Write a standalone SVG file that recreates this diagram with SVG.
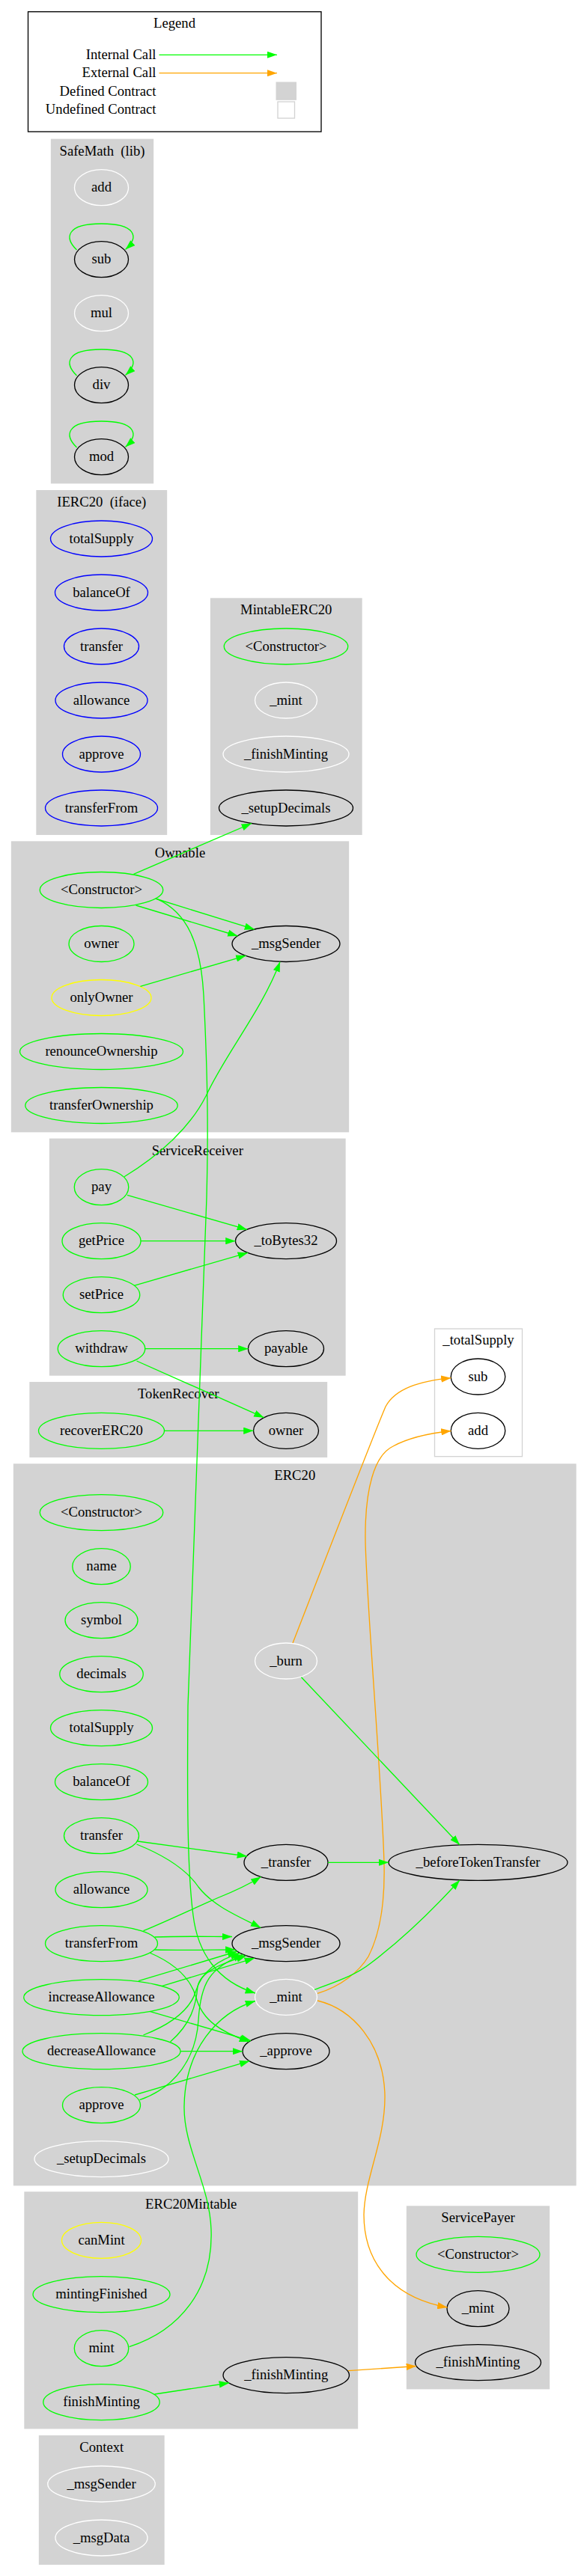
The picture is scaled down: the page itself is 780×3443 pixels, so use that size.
<svg xmlns="http://www.w3.org/2000/svg" width="780" height="3443" viewBox="0 0 780 3443">
<style>
text{font-family:"Liberation Serif","Times New Roman",serif;font-size:18.67px;fill:#000;text-anchor:middle}
.pre{white-space:pre}
.cl{fill:#d3d3d3;stroke:#d3d3d3;stroke-width:1.33}
.clw{fill:#fff;stroke:#d3d3d3;stroke-width:1.33}
ellipse{fill:none;stroke-width:1.33}
.g{stroke:#00ff00}.b{stroke:#0000ff}.y{stroke:#ffff00}.w{stroke:#ffffff}.k{stroke:#000000}
.eg{fill:none;stroke:#00ff00;stroke-width:1.33;marker-end:url(#ag)}
.eo{fill:none;stroke:#ffa500;stroke-width:1.33;marker-end:url(#ao)}
</style>
<defs>
<marker id="ag" markerUnits="userSpaceOnUse" markerWidth="13.33" markerHeight="9.33" viewBox="0 0 10 7" refX="10" refY="3.5" orient="auto"><path d="M0,0L10,3.5L0,7z" fill="#00ff00"/></marker>
<marker id="ao" markerUnits="userSpaceOnUse" markerWidth="13.33" markerHeight="9.33" viewBox="0 0 10 7" refX="10" refY="3.5" orient="auto"><path d="M0,0L10,3.5L0,7z" fill="#ffa500"/></marker>
</defs>
<rect width="780" height="3443" fill="#fff"/>

<g id="legend">
<rect x="37.5" y="15.7" width="391.5" height="160.3" fill="#fff" stroke="#000" stroke-width="1.33"/>
<text x="233" y="37">Legend</text>
<text x="208.5" y="79" style="text-anchor:end">Internal Call</text>
<text x="208.5" y="103.3" style="text-anchor:end">External Call</text>
<text x="208.5" y="127.6" style="text-anchor:end">Defined Contract</text>
<text x="208.5" y="152.3" style="text-anchor:end">Undefined Contract</text>
<path class="eg" d="M212.5,73.3L370,73.3"/>
<path class="eo" d="M212.5,97.7L370,97.7"/>
<rect x="369" y="110" width="26.5" height="23.3" fill="#d3d3d3" stroke="#d3d3d3"/>
<rect x="371" y="136" width="22.5" height="22" fill="#fff" stroke="#d3d3d3" stroke-width="1.33"/>
</g>

<g id="cluster_SafeMath">
<rect class="cl" x="68.5" y="186.3" width="136" height="459.4"/>
<text class="pre" x="136.5" y="207.5" xml:space="preserve">SafeMath  (lib)</text>
</g>
<g id="cluster_IERC20">
<rect class="cl" x="49" y="655.7" width="173.5" height="459.6"/>
<text class="pre" x="135.75" y="677" xml:space="preserve">IERC20  (iface)</text>
</g>
<g id="cluster_MintableERC20">
<rect class="cl" x="281.5" y="800" width="201.5" height="315.3"/>
<text x="382.25" y="821">MintableERC20</text>
</g>
<g id="cluster_Ownable">
<rect class="cl" x="15.5" y="1125" width="450" height="387.7"/>
<text x="240.5" y="1146">Ownable</text>
</g>
<g id="cluster_ServiceReceiver">
<rect class="cl" x="66.5" y="1522.3" width="394.5" height="315.7"/>
<text x="263.75" y="1543.5">ServiceReceiver</text>
</g>
<g id="cluster_TokenRecover">
<rect class="cl" x="40" y="1847.7" width="396.5" height="99.6"/>
<text x="238.25" y="1869">TokenRecover</text>
</g>
<g id="cluster_totalSupply">
<rect class="clw" x="580.5" y="1776" width="117" height="170.7"/>
<text x="639" y="1797">_totalSupply</text>
</g>
<g id="cluster_ERC20">
<rect class="cl" x="18.5" y="1957" width="750.5" height="963.7"/>
<text x="393.75" y="1978">ERC20</text>
</g>
<g id="cluster_ERC20Mintable">
<rect class="cl" x="33" y="2930" width="444.5" height="315.7"/>
<text x="255.25" y="2951.5">ERC20Mintable</text>
</g>
<g id="cluster_ServicePayer">
<rect class="cl" x="543.5" y="2949" width="190" height="243.7"/>
<text x="638.5" y="2970">ServicePayer</text>
</g>
<g id="cluster_Context">
<rect class="cl" x="52.5" y="3255.7" width="166.5" height="171.6"/>
<text x="135.75" y="3276.5">Context</text>
</g>

<g id="SafeMath_add"><ellipse class="w" cx="135.5" cy="250.7" rx="36" ry="24"/><text x="135.5" y="256.3">add</text></g>
<g id="SafeMath_sub"><ellipse class="k" cx="135.5" cy="346.7" rx="36" ry="24"/><text x="135.5" y="352.3">sub</text></g>
<g id="SafeMath_mul"><ellipse class="w" cx="135.5" cy="418.7" rx="36" ry="24"/><text x="135.5" y="424.3">mul</text></g>
<g id="SafeMath_div"><ellipse class="k" cx="135.5" cy="514.7" rx="36" ry="24"/><text x="135.5" y="520.3">div</text></g>
<g id="SafeMath_mod"><ellipse class="k" cx="135.5" cy="610.7" rx="36" ry="24"/><text x="135.5" y="616.3">mod</text></g>

<g id="IERC20_totalSupply"><ellipse class="b" cx="135.5" cy="720" rx="68" ry="24"/><text x="135.5" y="725.6">totalSupply</text></g>
<g id="IERC20_balanceOf"><ellipse class="b" cx="135.5" cy="792" rx="62" ry="24"/><text x="135.5" y="797.6">balanceOf</text></g>
<g id="IERC20_transfer"><ellipse class="b" cx="135.5" cy="864" rx="50" ry="24"/><text x="135.5" y="869.6">transfer</text></g>
<g id="IERC20_allowance"><ellipse class="b" cx="135.5" cy="936" rx="61.5" ry="24"/><text x="135.5" y="941.6">allowance</text></g>
<g id="IERC20_approve"><ellipse class="b" cx="135.5" cy="1008" rx="52" ry="24"/><text x="135.5" y="1013.6">approve</text></g>
<g id="IERC20_transferFrom"><ellipse class="b" cx="135.5" cy="1080" rx="75" ry="24"/><text x="135.5" y="1085.6">transferFrom</text></g>

<g id="MintableERC20_Constructor"><ellipse class="g" cx="382" cy="864" rx="82.75" ry="24"/><text x="382" y="869.6">&lt;Constructor&gt;</text></g>
<g id="MintableERC20_mint"><ellipse class="w" cx="382" cy="936" rx="41.5" ry="24"/><text x="382" y="941.6">_mint</text></g>
<g id="MintableERC20_finishMinting"><ellipse class="w" cx="382" cy="1008" rx="84" ry="24"/><text x="382" y="1013.6">_finishMinting</text></g>
<g id="MintableERC20_setupDecimals"><ellipse class="k" cx="382" cy="1080" rx="89.5" ry="24"/><text x="382" y="1085.6">_setupDecimals</text></g>

<g id="Ownable_Constructor"><ellipse class="g" cx="135.5" cy="1189.5" rx="82.25" ry="24"/><text x="135.5" y="1195.1">&lt;Constructor&gt;</text></g>
<g id="Ownable_owner"><ellipse class="g" cx="135.5" cy="1261.5" rx="43.5" ry="24"/><text x="135.5" y="1267.1">owner</text></g>
<g id="Ownable_onlyOwner"><ellipse class="y" cx="135.5" cy="1333.5" rx="66.5" ry="24"/><text x="135.5" y="1339.1">onlyOwner</text></g>
<g id="Ownable_renounceOwnership"><ellipse class="g" cx="135.5" cy="1405.5" rx="109" ry="24"/><text x="135.5" y="1411.1">renounceOwnership</text></g>
<g id="Ownable_transferOwnership"><ellipse class="g" cx="135.5" cy="1477.5" rx="101.75" ry="24"/><text x="135.5" y="1483.1">transferOwnership</text></g>
<g id="Ownable_msgSender"><ellipse class="k" cx="382" cy="1261.5" rx="72" ry="24"/><text x="382" y="1267.1">_msgSender</text></g>

<g id="ServiceReceiver_pay"><ellipse class="g" cx="135.5" cy="1586.7" rx="36.25" ry="24"/><text x="135.5" y="1592.3">pay</text></g>
<g id="ServiceReceiver_getPrice"><ellipse class="g" cx="135.5" cy="1658.7" rx="52.5" ry="24"/><text x="135.5" y="1664.3">getPrice</text></g>
<g id="ServiceReceiver_setPrice"><ellipse class="g" cx="135.5" cy="1730.7" rx="51.25" ry="24"/><text x="135.5" y="1736.3">setPrice</text></g>
<g id="ServiceReceiver_withdraw"><ellipse class="g" cx="135.5" cy="1802.7" rx="58.25" ry="24"/><text x="135.5" y="1808.3">withdraw</text></g>
<g id="ServiceReceiver_toBytes32"><ellipse class="k" cx="382" cy="1658.7" rx="67.5" ry="24"/><text x="382" y="1664.3">_toBytes32</text></g>
<g id="ServiceReceiver_payable"><ellipse class="k" cx="382" cy="1802.7" rx="50.5" ry="24"/><text x="382" y="1808.3">payable</text></g>

<g id="TokenRecover_recoverERC20"><ellipse class="g" cx="135.5" cy="1912.3" rx="84" ry="24"/><text x="135.5" y="1917.9">recoverERC20</text></g>
<g id="TokenRecover_owner"><ellipse class="k" cx="382" cy="1912.3" rx="43.5" ry="24"/><text x="382" y="1917.9">owner</text></g>

<g id="totalSupply_sub"><ellipse class="k" cx="638.5" cy="1840" rx="36.25" ry="24"/><text x="638.5" y="1845.6">sub</text></g>
<g id="totalSupply_add"><ellipse class="k" cx="638.5" cy="1912.3" rx="36.25" ry="24"/><text x="638.5" y="1917.9">add</text></g>

<g id="ERC20_Constructor"><ellipse class="g" cx="135.5" cy="2021.7" rx="82.25" ry="24"/><text x="135.5" y="2027.3">&lt;Constructor&gt;</text></g>
<g id="ERC20_name"><ellipse class="g" cx="135.5" cy="2093.7" rx="38.75" ry="24"/><text x="135.5" y="2099.3">name</text></g>
<g id="ERC20_symbol"><ellipse class="g" cx="135.5" cy="2165.7" rx="48.5" ry="24"/><text x="135.5" y="2171.3">symbol</text></g>
<g id="ERC20_decimals"><ellipse class="g" cx="135.5" cy="2237.7" rx="55.75" ry="24"/><text x="135.5" y="2243.3">decimals</text></g>
<g id="ERC20_totalSupply"><ellipse class="g" cx="135.5" cy="2309.7" rx="68" ry="24"/><text x="135.5" y="2315.3">totalSupply</text></g>
<g id="ERC20_balanceOf"><ellipse class="g" cx="135.5" cy="2381.7" rx="62" ry="24"/><text x="135.5" y="2387.3">balanceOf</text></g>
<g id="ERC20_transfer"><ellipse class="g" cx="135.5" cy="2453.7" rx="50" ry="24"/><text x="135.5" y="2459.3">transfer</text></g>
<g id="ERC20_allowance"><ellipse class="g" cx="135.5" cy="2525.7" rx="61.5" ry="24"/><text x="135.5" y="2531.3">allowance</text></g>
<g id="ERC20_transferFrom"><ellipse class="g" cx="135.5" cy="2597.7" rx="75" ry="24"/><text x="135.5" y="2603.3">transferFrom</text></g>
<g id="ERC20_increaseAllowance"><ellipse class="g" cx="135.5" cy="2669.7" rx="103.75" ry="24"/><text x="135.5" y="2675.3">increaseAllowance</text></g>
<g id="ERC20_decreaseAllowance"><ellipse class="g" cx="135.5" cy="2741.7" rx="105.5" ry="24"/><text x="135.5" y="2747.3">decreaseAllowance</text></g>
<g id="ERC20_approve"><ellipse class="g" cx="135.5" cy="2813.7" rx="52" ry="24"/><text x="135.5" y="2819.3">approve</text></g>
<g id="ERC20_setupDecimals"><ellipse class="w" cx="135.5" cy="2885.7" rx="89.5" ry="24"/><text x="135.5" y="2891.3">_setupDecimals</text></g>
<g id="ERC20_burn"><ellipse class="w" cx="382" cy="2220" rx="41.5" ry="24"/><text x="382" y="2225.6">_burn</text></g>
<g id="ERC20_transfer_internal"><ellipse class="k" cx="382" cy="2489.3" rx="56" ry="24"/><text x="382" y="2494.9">_transfer</text></g>
<g id="ERC20_msgSender"><ellipse class="k" cx="382" cy="2597.7" rx="72" ry="24"/><text x="382" y="2603.3">_msgSender</text></g>
<g id="ERC20_mint"><ellipse class="w" cx="382" cy="2669.3" rx="41.5" ry="24"/><text x="382" y="2674.9">_mint</text></g>
<g id="ERC20_approve_internal"><ellipse class="k" cx="382" cy="2741.7" rx="58" ry="24"/><text x="382" y="2747.3">_approve</text></g>
<g id="ERC20_beforeTokenTransfer"><ellipse class="k" cx="638.5" cy="2489.3" rx="119.5" ry="24"/><text x="638.5" y="2494.9">_beforeTokenTransfer</text></g>

<g id="ERC20Mintable_canMint"><ellipse class="y" cx="135.5" cy="2994.3" rx="53" ry="24"/><text x="135.5" y="2999.9">canMint</text></g>
<g id="ERC20Mintable_mintingFinished"><ellipse class="g" cx="135.5" cy="3066.7" rx="91.5" ry="24"/><text x="135.5" y="3072.3">mintingFinished</text></g>
<g id="ERC20Mintable_mint"><ellipse class="g" cx="135.5" cy="3138.7" rx="36.25" ry="24"/><text x="135.5" y="3144.3">mint</text></g>
<g id="ERC20Mintable_finishMinting"><ellipse class="g" cx="135.5" cy="3210.7" rx="77.75" ry="24"/><text x="135.5" y="3216.3">finishMinting</text></g>
<g id="ERC20Mintable_finishMinting_internal"><ellipse class="k" cx="382.25" cy="3174.7" rx="84.25" ry="24"/><text x="382.25" y="3180.3">_finishMinting</text></g>

<g id="ServicePayer_Constructor"><ellipse class="g" cx="638.5" cy="3013.3" rx="82.5" ry="24"/><text x="638.5" y="3018.9">&lt;Constructor&gt;</text></g>
<g id="ServicePayer_mint"><ellipse class="k" cx="638.5" cy="3085.7" rx="41.5" ry="24"/><text x="638.5" y="3091.3">_mint</text></g>
<g id="ServicePayer_finishMinting"><ellipse class="k" cx="638.5" cy="3157.7" rx="84" ry="24"/><text x="638.5" y="3163.3">_finishMinting</text></g>

<g id="Context_msgSender"><ellipse class="w" cx="135.5" cy="3320" rx="71.75" ry="24"/><text x="135.5" y="3325.6">_msgSender</text></g>
<g id="Context_msgData"><ellipse class="w" cx="135.5" cy="3392" rx="61.5" ry="24"/><text x="135.5" y="3397.6">_msgData</text></g>

<g id="edges">
<path class="eg" d="M102.5,334C86,318 88,299 135.5,299C180,299 187,316 167.5,333.5"/>
<path class="eg" d="M102.5,502C86,486 88,467 135.5,467C180,467 187,484 167.5,501.5"/>
<path class="eg" d="M102.5,598C86,582 88,563 135.5,563C180,563 187,580 167.5,597.5"/>

<path class="eg" d="M178.5,1168.3L336,1100.5"/>
<path class="eg" d="M181.5,1210L317.5,1251"/>
<path class="eg" d="M207.5,1201L340,1242.2"/>
<path class="eg" d="M210,1201.7C250,1220 268,1260 272,1330C278,1450 278,1520 276,1600L251,2280C250,2400 250,2500 258,2560C264,2610 290,2648 341,2664"/>
<path class="eg" d="M187.5,1318.3L328.5,1277.3"/>

<path class="eg" d="M166,1572.7C215,1543 255,1505 275,1465C300,1410 350,1350 374,1285.5"/>
<path class="eg" d="M170,1597.3L330,1643.4"/>
<path class="eg" d="M188,1658.7L314.5,1658.7"/>
<path class="eg" d="M179,1718.3L331,1674.4"/>
<path class="eg" d="M194,1802.7L331.5,1802.7"/>
<path class="eg" d="M182.5,1819L352.5,1894.7"/>
<path class="eg" d="M219.5,1912.3L338.5,1912.3"/>

<path class="eo" d="M391,2196C440,2070 500,1915 515,1880C528,1856 560,1846 602.5,1841.7"/>
<path class="eo" d="M424,2664.3C455,2655 480,2635 492,2615C510,2580 514,2530 513,2490C510,2380 490,2150 488,2060C487,1990 500,1945 525,1933C545,1922 570,1916 602.5,1912.5"/>
<path class="eg" d="M402.5,2241.7L614,2465.8"/>
<path class="eg" d="M184,2461L330,2481"/>
<path class="eg" d="M182.5,2465C225,2482 250,2500 265,2522C285,2548 320,2562 348.3,2576.5"/>
<path class="eg" d="M438,2489.3L519,2489.3"/>
<path class="eg" d="M191.5,2580.7C225,2567 260,2550 290,2537C315,2527 335,2517 348.5,2508.5"/>
<path class="eg" d="M206.5,2589C250,2587.5 280,2588.5 310,2588.5"/>
<path class="eg" d="M206.5,2606C250,2607 285,2606 314.4,2606"/>
<path class="eg" d="M200,2610C235,2625 255,2645 262,2670C270,2700 295,2716 333,2729"/>
<path class="eg" d="M185,2647.7L317,2608"/>
<path class="eg" d="M216.7,2654.3L340,2617.2"/>
<path class="eg" d="M200,2688.3L335,2727.6"/>
<path class="eg" d="M191.5,2720C230,2705 255,2685 262,2660C270,2635 290,2620 321,2610.4"/>
<path class="eg" d="M227.5,2729C255,2705 262,2680 264,2655C268,2635 295,2625 329,2613.9"/>
<path class="eg" d="M241,2741.7L324,2741.7"/>
<path class="eg" d="M180,2800L333.3,2754.7"/>
<path class="eg" d="M186.5,2806.7C235,2790 262,2750 265,2700C268,2650 280,2630 325,2612.4"/>
<path class="eg" d="M420,2659.3C450,2648 475,2640 495,2624C540,2590 585,2545 614,2513"/>
<path class="eo" d="M424,2674C470,2685 512,2730 514,2800C515,2860 487,2910 486,2960C486,3020 520,3070 597.5,3084"/>
<path class="eg" d="M172.5,3136.7C240,3115 285,3060 282,2980C280,2920 245,2870 246,2815C247,2740 290,2690 341,2674.5"/>
<path class="eg" d="M206.5,3200L306,3185"/>
<path class="eo" d="M465,3168.7L556,3162.5"/>
</g>
</svg>
